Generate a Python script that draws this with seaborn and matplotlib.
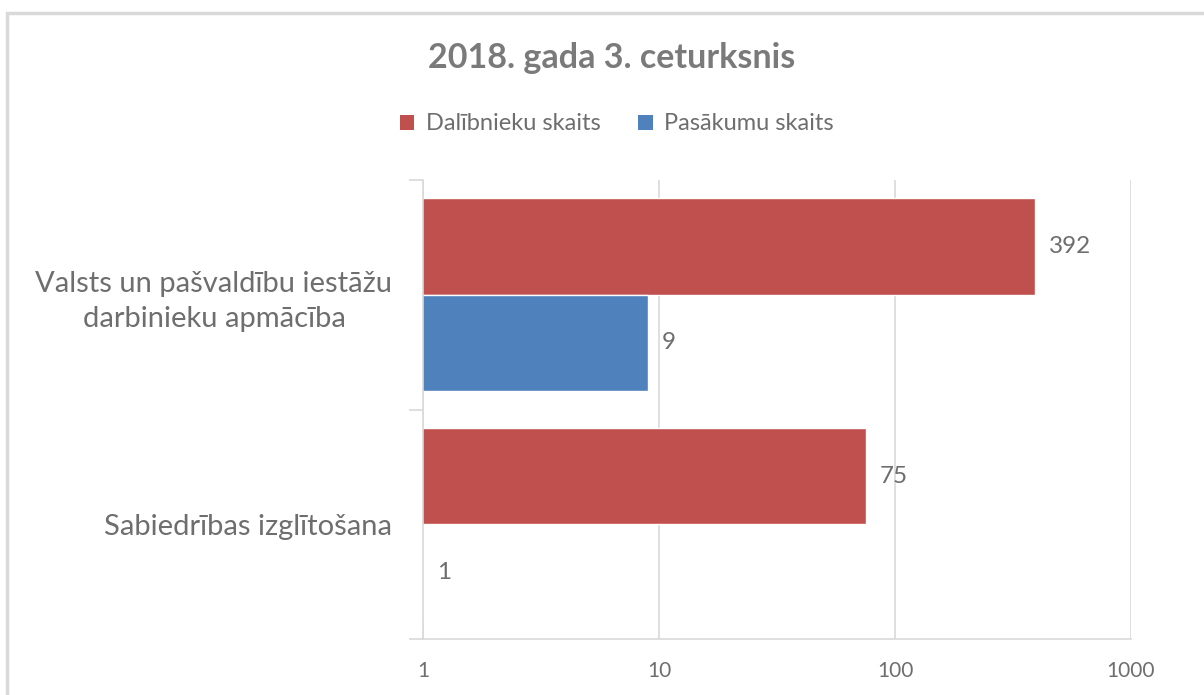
import matplotlib
matplotlib.use("Agg")
import matplotlib.pyplot as plt
from matplotlib.patches import Patch, Rectangle
from matplotlib.ticker import FixedLocator, NullLocator, NullFormatter
import seaborn as sns
import pandas as pd

# Data
categories = ["Valsts un pašvaldību iestāžu\ndarbinieku apmācība", "Sabiedrības izglītošana"]
series_names = ["Dalībnieku skaits", "Pasākumu skaits"]
participants = [392, 75]
events = [9, 1]
x_ticks = [1, 10, 100, 1000]
title = "2018. gada 3. ceturksnis"

colors = ["#C0504D", "#4F81BD"]
text_gray = "#6E6E6E"
grid_gray = "#D9D9D9"

df = pd.DataFrame({
    "category": categories * 2,
    "series": [series_names[0]] * 2 + [series_names[1]] * 2,
    "value": participants + events,
})

sns.set_theme(style="white")
plt.rcParams["font.family"] = ["Lato", "DejaVu Sans"]

fig = plt.figure(figsize=(12.04, 6.95), dpi=100)
ax = fig.add_axes([423 / 1204, 1 - 639 / 695, (1131 - 423) / 1204, (639 - 180) / 695])

sns.barplot(data=df, y="category", x="value", hue="series", order=categories,
            hue_order=series_names, palette=colors, orient="h", width=0.84,
            saturation=1, ax=ax, legend=False)

ax.set_xscale("log")
ax.set_xlim(1, 1000)
ax.set_ylim(1.5, -0.5)

# x axis
ax.xaxis.set_major_locator(FixedLocator(x_ticks))
ax.set_xticklabels([str(t) for t in x_ticks])
ax.xaxis.set_minor_locator(NullLocator())
ax.xaxis.set_minor_formatter(NullFormatter())
ax.tick_params(axis="x", which="major", length=9, width=1.2, color=grid_gray,
               labelsize=15, labelcolor=text_gray, pad=7)
ax.grid(axis="x", color=grid_gray, linewidth=1.2)
ax.set_axisbelow(True)

# y axis: labels at category centers, ticks at category boundaries
ax.set_yticks([0, 1])
ax.set_yticklabels(categories)
ax.yaxis.set_minor_locator(FixedLocator([-0.5, 0.5, 1.5]))
ax.tick_params(axis="y", which="major", length=0, labelsize=21,
               labelcolor=text_gray, pad=22)
ax.tick_params(axis="y", which="minor", length=10, width=1.2, color=grid_gray, left=True)
for lbl in ax.get_yticklabels():
    lbl.set_multialignment("center")
    lbl.set_linespacing(1.4)
ax.set_xlabel("")
ax.set_ylabel("")

for side in ["top", "right"]:
    ax.spines[side].set_visible(False)
for side in ["left", "bottom"]:
    ax.spines[side].set_color(grid_gray)
    ax.spines[side].set_linewidth(1.2)

# value labels
for container, vals in zip(ax.containers, [participants, events]):
    ax.bar_label(container, labels=[str(v) for v in vals], padding=10,
                 fontsize=17.5, color=text_gray)

# legend
handles = [Patch(facecolor=c, edgecolor="none") for c in colors]
fig.legend(handles, series_names, loc="center", bbox_to_anchor=(617 / 1204, 1 - 124 / 695),
           ncol=2, frameon=False, fontsize=17, labelcolor=text_gray,
           handlelength=0.6, handleheight=0.6, handletextpad=0.5, columnspacing=1.6)

fig.text(612 / 1204, 1 - 58 / 695, title, ha="center", va="center",
         fontsize=24.5, fontweight="bold", color="#7A7A7A")

# chart frame
fig.patches.append(Rectangle((7 / 1204, -0.2), 1.2, 1 - 13 / 695 + 0.2,
                             transform=fig.transFigure, fill=False,
                             edgecolor=grid_gray, linewidth=2.5))

fig.savefig("out.png", dpi=100)
